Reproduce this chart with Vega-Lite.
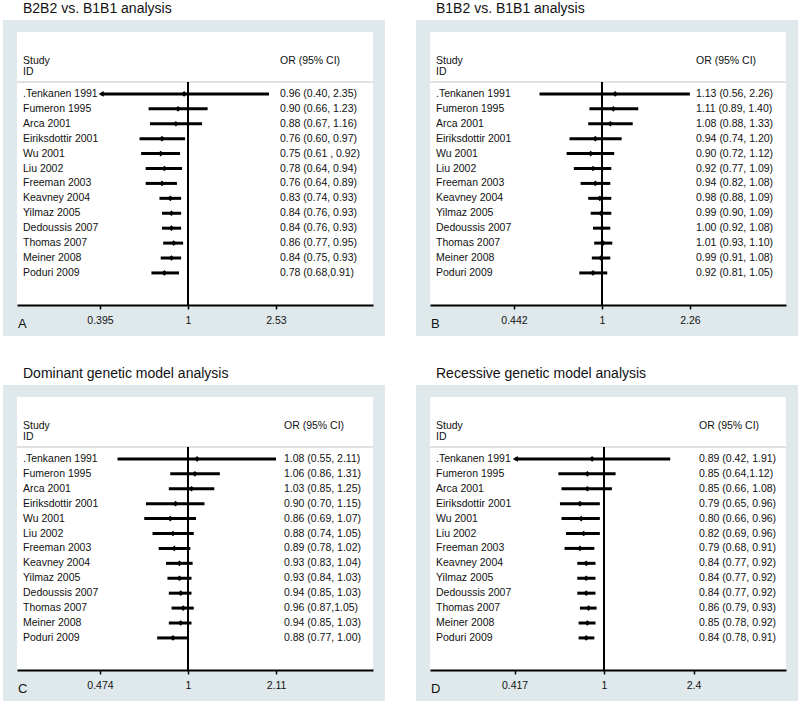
{
  "$schema": "https://vega.github.io/schema/vega-lite/v6.json",
  "padding": {"left": 2, "top": 2, "right": 0, "bottom": 0},
  "background": "white",
  "datasets": {
    "A": [
      {"study": ".Tenkanen 1991", "est": 0.96, "lo": 0.40, "hi": 2.35, "ci": "0.96 (0.40, 2.35)"},
      {"study": "Fumeron 1995", "est": 0.90, "lo": 0.66, "hi": 1.23, "ci": "0.90 (0.66, 1.23)"},
      {"study": "Arca 2001", "est": 0.88, "lo": 0.67, "hi": 1.16, "ci": "0.88 (0.67, 1.16)"},
      {"study": "Eiriksdottir 2001", "est": 0.76, "lo": 0.60, "hi": 0.97, "ci": "0.76 (0.60, 0.97)"},
      {"study": "Wu 2001", "est": 0.75, "lo": 0.61, "hi": 0.92, "ci": "0.75 (0.61 , 0.92)"},
      {"study": "Liu 2002", "est": 0.78, "lo": 0.64, "hi": 0.94, "ci": "0.78 (0.64, 0.94)"},
      {"study": "Freeman 2003", "est": 0.76, "lo": 0.64, "hi": 0.89, "ci": "0.76 (0.64, 0.89)"},
      {"study": "Keavney 2004", "est": 0.83, "lo": 0.74, "hi": 0.93, "ci": "0.83 (0.74, 0.93)"},
      {"study": "Yilmaz 2005", "est": 0.84, "lo": 0.76, "hi": 0.93, "ci": "0.84 (0.76, 0.93)"},
      {"study": "Dedoussis 2007", "est": 0.84, "lo": 0.76, "hi": 0.93, "ci": "0.84 (0.76, 0.93)"},
      {"study": "Thomas 2007", "est": 0.86, "lo": 0.77, "hi": 0.95, "ci": "0.86 (0.77, 0.95)"},
      {"study": "Meiner 2008", "est": 0.84, "lo": 0.75, "hi": 0.93, "ci": "0.84 (0.75, 0.93)"},
      {"study": "Poduri 2009", "est": 0.78, "lo": 0.68, "hi": 0.91, "ci": "0.78 (0.68,0.91)"}
    ],
    "B": [
      {"study": ".Tenkanen 1991", "est": 1.13, "lo": 0.56, "hi": 2.26, "ci": "1.13 (0.56, 2.26)"},
      {"study": "Fumeron 1995", "est": 1.11, "lo": 0.89, "hi": 1.40, "ci": "1.11 (0.89, 1.40)"},
      {"study": "Arca 2001", "est": 1.08, "lo": 0.88, "hi": 1.33, "ci": "1.08 (0.88, 1.33)"},
      {"study": "Eiriksdottir 2001", "est": 0.94, "lo": 0.74, "hi": 1.20, "ci": "0.94 (0.74, 1.20)"},
      {"study": "Wu 2001", "est": 0.90, "lo": 0.72, "hi": 1.12, "ci": "0.90 (0.72, 1.12)"},
      {"study": "Liu 2002", "est": 0.92, "lo": 0.77, "hi": 1.09, "ci": "0.92 (0.77, 1.09)"},
      {"study": "Freeman 2003", "est": 0.94, "lo": 0.82, "hi": 1.08, "ci": "0.94 (0.82, 1.08)"},
      {"study": "Keavney 2004", "est": 0.98, "lo": 0.88, "hi": 1.09, "ci": "0.98 (0.88, 1.09)"},
      {"study": "Yilmaz 2005", "est": 0.99, "lo": 0.90, "hi": 1.09, "ci": "0.99 (0.90, 1.09)"},
      {"study": "Dedoussis 2007", "est": 1.00, "lo": 0.92, "hi": 1.08, "ci": "1.00 (0.92, 1.08)"},
      {"study": "Thomas 2007", "est": 1.01, "lo": 0.93, "hi": 1.10, "ci": "1.01 (0.93, 1.10)"},
      {"study": "Meiner 2008", "est": 0.99, "lo": 0.91, "hi": 1.08, "ci": "0.99 (0.91, 1.08)"},
      {"study": "Poduri 2009", "est": 0.92, "lo": 0.81, "hi": 1.05, "ci": "0.92 (0.81, 1.05)"}
    ],
    "C": [
      {"study": ".Tenkanen 1991", "est": 1.08, "lo": 0.55, "hi": 2.11, "ci": "1.08 (0.55, 2.11)"},
      {"study": "Fumeron 1995", "est": 1.06, "lo": 0.86, "hi": 1.31, "ci": "1.06 (0.86, 1.31)"},
      {"study": "Arca 2001", "est": 1.03, "lo": 0.85, "hi": 1.25, "ci": "1.03 (0.85, 1.25)"},
      {"study": "Eiriksdottir 2001", "est": 0.90, "lo": 0.70, "hi": 1.15, "ci": "0.90 (0.70, 1.15)"},
      {"study": "Wu 2001", "est": 0.86, "lo": 0.69, "hi": 1.07, "ci": "0.86 (0.69, 1.07)"},
      {"study": "Liu 2002", "est": 0.88, "lo": 0.74, "hi": 1.05, "ci": "0.88 (0.74, 1.05)"},
      {"study": "Freeman 2003", "est": 0.89, "lo": 0.78, "hi": 1.02, "ci": "0.89 (0.78, 1.02)"},
      {"study": "Keavney 2004", "est": 0.93, "lo": 0.83, "hi": 1.04, "ci": "0.93 (0.83, 1.04)"},
      {"study": "Yilmaz 2005", "est": 0.93, "lo": 0.84, "hi": 1.03, "ci": "0.93 (0.84, 1.03)"},
      {"study": "Dedoussis 2007", "est": 0.94, "lo": 0.85, "hi": 1.03, "ci": "0.94 (0.85, 1.03)"},
      {"study": "Thomas 2007", "est": 0.96, "lo": 0.87, "hi": 1.05, "ci": "0.96 (0.87,1.05)"},
      {"study": "Meiner 2008", "est": 0.94, "lo": 0.85, "hi": 1.03, "ci": "0.94 (0.85, 1.03)"},
      {"study": "Poduri 2009", "est": 0.88, "lo": 0.77, "hi": 1.00, "ci": "0.88 (0.77, 1.00)"}
    ],
    "D": [
      {"study": ".Tenkanen 1991", "est": 0.89, "lo": 0.42, "hi": 1.91, "ci": "0.89 (0.42, 1.91)"},
      {"study": "Fumeron 1995", "est": 0.85, "lo": 0.64, "hi": 1.12, "ci": "0.85 (0.64,1.12)"},
      {"study": "Arca 2001", "est": 0.85, "lo": 0.66, "hi": 1.08, "ci": "0.85 (0.66, 1.08)"},
      {"study": "Eiriksdottir 2001", "est": 0.79, "lo": 0.65, "hi": 0.96, "ci": "0.79 (0.65, 0.96)"},
      {"study": "Wu 2001", "est": 0.80, "lo": 0.66, "hi": 0.96, "ci": "0.80 (0.66, 0.96)"},
      {"study": "Liu 2002", "est": 0.82, "lo": 0.69, "hi": 0.96, "ci": "0.82 (0.69, 0.96)"},
      {"study": "Freeman 2003", "est": 0.79, "lo": 0.68, "hi": 0.91, "ci": "0.79 (0.68, 0.91)"},
      {"study": "Keavney 2004", "est": 0.84, "lo": 0.77, "hi": 0.92, "ci": "0.84 (0.77, 0.92)"},
      {"study": "Yilmaz 2005", "est": 0.84, "lo": 0.77, "hi": 0.92, "ci": "0.84 (0.77, 0.92)"},
      {"study": "Dedoussis 2007", "est": 0.84, "lo": 0.77, "hi": 0.92, "ci": "0.84 (0.77, 0.92)"},
      {"study": "Thomas 2007", "est": 0.86, "lo": 0.79, "hi": 0.93, "ci": "0.86 (0.79, 0.93)"},
      {"study": "Meiner 2008", "est": 0.85, "lo": 0.78, "hi": 0.92, "ci": "0.85 (0.78, 0.92)"},
      {"study": "Poduri 2009", "est": 0.84, "lo": 0.78, "hi": 0.91, "ci": "0.84 (0.78, 0.91)"}
    ]
  },
  "columns": 2,
  "spacing": {"row": 31, "column": 29},
  "concat": [
    {
      "title": {"text": "B2B2 vs. B1B1 analysis"},
      "width": 356, "height": 273,
      "data": {"name": "A"},
      "transform": [{"window": [{"op": "row_number", "as": "rank"}]}],
      "layer": [
        {"data": {"values": [{}]}, "mark": {"type": "rect", "color": "#dfe9ec"},
         "encoding": {
           "x": {"datum": 0.1421, "type": "quantitative", "scale": {"type": "log", "domain": [0.1647, 7.04], "nice": false},
                 "axis": {"values": [0.395, 1, 2.53], "labelExpr": "format(datum.value, '.3~g')", "title": null, "zindex": 2}},
           "x2": {"datum": 7.99},
           "y": {"datum": -3.954, "type": "quantitative", "scale": {"domain": [-3.15, 15.15], "reverse": true, "nice": false, "zero": false}, "axis": null},
           "y2": {"datum": 17.228}}},
        {"data": {"values": [{}]}, "mark": {"type": "rect", "color": "white"},
         "encoding": {"x": {"datum": 0.1647, "type": "quantitative"}, "x2": {"datum": 7.04},
                      "y": {"datum": -3.15, "type": "quantitative", "axis": null}, "y2": {"datum": 15.15}}},
        {"data": {"values": [{}]}, "mark": {"type": "rule", "color": "#c4c4c4", "strokeWidth": 1},
         "encoding": {"y": {"datum": 0.201, "type": "quantitative", "axis": null}}},
        {"data": {"values": [{}]}, "mark": {"type": "rule", "color": "black", "strokeWidth": 2},
         "encoding": {"x": {"datum": 1, "type": "quantitative"}, "y": {"datum": 0.201, "type": "quantitative", "axis": null}, "y2": {"datum": 15.15}}},
        {"data": {"values": [{}]}, "mark": {"type": "text", "text": "Study", "align": "left", "baseline": "middle"},
         "encoding": {"x": {"datum": 0.1754, "type": "quantitative"}, "y": {"datum": -1.206, "type": "quantitative", "axis": null}}},
        {"data": {"values": [{}]}, "mark": {"type": "text", "text": "ID", "align": "left", "baseline": "middle"},
         "encoding": {"x": {"datum": 0.1754, "type": "quantitative"}, "y": {"datum": -0.469, "type": "quantitative", "axis": null}}},
        {"data": {"values": [{}]}, "mark": {"type": "text", "text": "OR (95% CI)", "align": "left", "baseline": "middle"},
         "encoding": {"x": {"datum": 2.639, "type": "quantitative"}, "y": {"datum": -1.206, "type": "quantitative", "axis": null}}},
        {"data": {"values": [{}]}, "mark": {"type": "text", "text": "A", "align": "left", "baseline": "middle", "fontSize": 13},
         "encoding": {"x": {"datum": 0.1664, "type": "quantitative"}, "y": {"datum": 16.42, "type": "quantitative", "axis": null}}},
        {"mark": {"type": "rule", "color": "black", "strokeWidth": 3},
         "encoding": {"x": {"field": "lo", "type": "quantitative"}, "x2": {"field": "hi"}, "y": {"field": "rank", "type": "quantitative", "axis": null}}},
        {"transform": [{"filter": {"field": "study", "equal": ".Tenkanen 1991"}}],
         "mark": {"type": "point", "shape": "triangle-left", "filled": true, "color": "black", "size": 35, "opacity": 1},
         "encoding": {"x": {"field": "lo", "type": "quantitative"}, "y": {"field": "rank", "type": "quantitative", "axis": null}}},
        {"mark": {"type": "point", "shape": "diamond", "filled": true, "color": "black", "size": 32, "opacity": 1},
         "encoding": {"x": {"field": "est", "type": "quantitative"}, "y": {"field": "rank", "type": "quantitative", "axis": null}}},
        {"mark": {"type": "text", "align": "left", "baseline": "middle"},
         "encoding": {"x": {"datum": 0.1754, "type": "quantitative"}, "y": {"field": "rank", "type": "quantitative", "axis": null}, "text": {"field": "study"}}},
        {"mark": {"type": "text", "align": "left", "baseline": "middle"},
         "encoding": {"x": {"datum": 2.639, "type": "quantitative"}, "y": {"field": "rank", "type": "quantitative", "axis": null}, "text": {"field": "ci"}}}
      ]
    },
    {
      "title": {"text": "B1B2 vs. B1B1 analysis"},
      "width": 356, "height": 273,
      "data": {"name": "B"},
      "transform": [{"window": [{"op": "row_number", "as": "rank"}]}],
      "layer": [
        {"data": {"values": [{}]}, "mark": {"type": "rect", "color": "#dfe9ec"},
         "encoding": {
           "x": {"datum": 0.1781, "type": "quantitative", "scale": {"type": "log", "domain": [0.2028, 5.511], "nice": false},
                 "axis": {"values": [0.442, 1, 2.26], "labelExpr": "format(datum.value, '.3~g')", "title": null, "zindex": 2}},
           "x2": {"datum": 6.161},
           "y": {"datum": -3.954, "type": "quantitative", "scale": {"domain": [-3.15, 15.15], "reverse": true, "nice": false, "zero": false}, "axis": null},
           "y2": {"datum": 17.228}}},
        {"data": {"values": [{}]}, "mark": {"type": "rect", "color": "white"},
         "encoding": {"x": {"datum": 0.2028, "type": "quantitative"}, "x2": {"datum": 5.511},
                      "y": {"datum": -3.15, "type": "quantitative", "axis": null}, "y2": {"datum": 15.15}}},
        {"data": {"values": [{}]}, "mark": {"type": "rule", "color": "#c4c4c4", "strokeWidth": 1},
         "encoding": {"y": {"datum": 0.201, "type": "quantitative", "axis": null}}},
        {"data": {"values": [{}]}, "mark": {"type": "rule", "color": "black", "strokeWidth": 2},
         "encoding": {"x": {"datum": 1, "type": "quantitative"}, "y": {"datum": 0.201, "type": "quantitative", "axis": null}, "y2": {"datum": 15.15}}},
        {"data": {"values": [{}]}, "mark": {"type": "text", "text": "Study", "align": "left", "baseline": "middle"},
         "encoding": {"x": {"datum": 0.2144, "type": "quantitative"}, "y": {"datum": -1.206, "type": "quantitative", "axis": null}}},
        {"data": {"values": [{}]}, "mark": {"type": "text", "text": "ID", "align": "left", "baseline": "middle"},
         "encoding": {"x": {"datum": 0.2144, "type": "quantitative"}, "y": {"datum": -0.469, "type": "quantitative", "axis": null}}},
        {"data": {"values": [{}]}, "mark": {"type": "text", "text": "OR (95% CI)", "align": "left", "baseline": "middle"},
         "encoding": {"x": {"datum": 2.392, "type": "quantitative"}, "y": {"datum": -1.206, "type": "quantitative", "axis": null}}},
        {"data": {"values": [{}]}, "mark": {"type": "text", "text": "B", "align": "left", "baseline": "middle", "fontSize": 13},
         "encoding": {"x": {"datum": 0.2047, "type": "quantitative"}, "y": {"datum": 16.42, "type": "quantitative", "axis": null}}},
        {"mark": {"type": "rule", "color": "black", "strokeWidth": 3},
         "encoding": {"x": {"field": "lo", "type": "quantitative"}, "x2": {"field": "hi"}, "y": {"field": "rank", "type": "quantitative", "axis": null}}},
        {"mark": {"type": "point", "shape": "diamond", "filled": true, "color": "black", "size": 32, "opacity": 1},
         "encoding": {"x": {"field": "est", "type": "quantitative"}, "y": {"field": "rank", "type": "quantitative", "axis": null}}},
        {"mark": {"type": "text", "align": "left", "baseline": "middle"},
         "encoding": {"x": {"datum": 0.2144, "type": "quantitative"}, "y": {"field": "rank", "type": "quantitative", "axis": null}, "text": {"field": "study"}}},
        {"mark": {"type": "text", "align": "left", "baseline": "middle"},
         "encoding": {"x": {"datum": 2.392, "type": "quantitative"}, "y": {"field": "rank", "type": "quantitative", "axis": null}, "text": {"field": "ci"}}}
      ]
    },
    {
      "title": {"text": "Dominant genetic model analysis"},
      "width": 356, "height": 273,
      "data": {"name": "C"},
      "transform": [{"window": [{"op": "row_number", "as": "rank"}]}],
      "layer": [
        {"data": {"values": [{}]}, "mark": {"type": "rect", "color": "#dfe9ec"},
         "encoding": {
           "x": {"datum": 0.2082, "type": "quantitative", "scale": {"type": "log", "domain": [0.2345, 4.802], "nice": false},
                 "axis": {"values": [0.474, 1, 2.11], "labelExpr": "format(datum.value, '.3~g')", "title": null, "zindex": 2}},
           "x2": {"datum": 5.317},
           "y": {"datum": -3.954, "type": "quantitative", "scale": {"domain": [-3.15, 15.15], "reverse": true, "nice": false, "zero": false}, "axis": null},
           "y2": {"datum": 17.228}}},
        {"data": {"values": [{}]}, "mark": {"type": "rect", "color": "white"},
         "encoding": {"x": {"datum": 0.2345, "type": "quantitative"}, "x2": {"datum": 4.802},
                      "y": {"datum": -3.15, "type": "quantitative", "axis": null}, "y2": {"datum": 15.15}}},
        {"data": {"values": [{}]}, "mark": {"type": "rule", "color": "#c4c4c4", "strokeWidth": 1},
         "encoding": {"y": {"datum": 0.201, "type": "quantitative", "axis": null}}},
        {"data": {"values": [{}]}, "mark": {"type": "rule", "color": "black", "strokeWidth": 2},
         "encoding": {"x": {"datum": 1, "type": "quantitative"}, "y": {"datum": 0.201, "type": "quantitative", "axis": null}, "y2": {"datum": 15.15}}},
        {"data": {"values": [{}]}, "mark": {"type": "text", "text": "Study", "align": "left", "baseline": "middle"},
         "encoding": {"x": {"datum": 0.2467, "type": "quantitative"}, "y": {"datum": -1.206, "type": "quantitative", "axis": null}}},
        {"data": {"values": [{}]}, "mark": {"type": "text", "text": "ID", "align": "left", "baseline": "middle"},
         "encoding": {"x": {"datum": 0.2467, "type": "quantitative"}, "y": {"datum": -0.469, "type": "quantitative", "axis": null}}},
        {"data": {"values": [{}]}, "mark": {"type": "text", "text": "OR (95% CI)", "align": "left", "baseline": "middle"},
         "encoding": {"x": {"datum": 2.257, "type": "quantitative"}, "y": {"datum": -1.206, "type": "quantitative", "axis": null}}},
        {"data": {"values": [{}]}, "mark": {"type": "text", "text": "C", "align": "left", "baseline": "middle", "fontSize": 13},
         "encoding": {"x": {"datum": 0.2365, "type": "quantitative"}, "y": {"datum": 16.42, "type": "quantitative", "axis": null}}},
        {"mark": {"type": "rule", "color": "black", "strokeWidth": 3},
         "encoding": {"x": {"field": "lo", "type": "quantitative"}, "x2": {"field": "hi"}, "y": {"field": "rank", "type": "quantitative", "axis": null}}},
        {"mark": {"type": "point", "shape": "diamond", "filled": true, "color": "black", "size": 32, "opacity": 1},
         "encoding": {"x": {"field": "est", "type": "quantitative"}, "y": {"field": "rank", "type": "quantitative", "axis": null}}},
        {"mark": {"type": "text", "align": "left", "baseline": "middle"},
         "encoding": {"x": {"datum": 0.2467, "type": "quantitative"}, "y": {"field": "rank", "type": "quantitative", "axis": null}, "text": {"field": "study"}}},
        {"mark": {"type": "text", "align": "left", "baseline": "middle"},
         "encoding": {"x": {"datum": 2.257, "type": "quantitative"}, "y": {"field": "rank", "type": "quantitative", "axis": null}, "text": {"field": "ci"}}}
      ]
    },
    {
      "title": {"text": "Recessive genetic model analysis"},
      "width": 356, "height": 273,
      "data": {"name": "D"},
      "transform": [{"window": [{"op": "row_number", "as": "rank"}]}],
      "layer": [
        {"data": {"values": [{}]}, "mark": {"type": "rect", "color": "#dfe9ec"},
         "encoding": {
           "x": {"datum": 0.1592, "type": "quantitative", "scale": {"type": "log", "domain": [0.1825, 5.924], "nice": false},
                 "axis": {"values": [0.417, 1, 2.4], "labelExpr": "format(datum.value, '.3~g')", "title": null, "zindex": 2}},
           "x2": {"datum": 6.662},
           "y": {"datum": -3.954, "type": "quantitative", "scale": {"domain": [-3.15, 15.15], "reverse": true, "nice": false, "zero": false}, "axis": null},
           "y2": {"datum": 17.228}}},
        {"data": {"values": [{}]}, "mark": {"type": "rect", "color": "white"},
         "encoding": {"x": {"datum": 0.1825, "type": "quantitative"}, "x2": {"datum": 5.924},
                      "y": {"datum": -3.15, "type": "quantitative", "axis": null}, "y2": {"datum": 15.15}}},
        {"data": {"values": [{}]}, "mark": {"type": "rule", "color": "#c4c4c4", "strokeWidth": 1},
         "encoding": {"y": {"datum": 0.201, "type": "quantitative", "axis": null}}},
        {"data": {"values": [{}]}, "mark": {"type": "rule", "color": "black", "strokeWidth": 2},
         "encoding": {"x": {"datum": 1, "type": "quantitative"}, "y": {"datum": 0.201, "type": "quantitative", "axis": null}, "y2": {"datum": 15.15}}},
        {"data": {"values": [{}]}, "mark": {"type": "text", "text": "Study", "align": "left", "baseline": "middle"},
         "encoding": {"x": {"datum": 0.1935, "type": "quantitative"}, "y": {"datum": -1.206, "type": "quantitative", "axis": null}}},
        {"data": {"values": [{}]}, "mark": {"type": "text", "text": "ID", "align": "left", "baseline": "middle"},
         "encoding": {"x": {"datum": 0.1935, "type": "quantitative"}, "y": {"datum": -0.469, "type": "quantitative", "axis": null}}},
        {"data": {"values": [{}]}, "mark": {"type": "text", "text": "OR (95% CI)", "align": "left", "baseline": "middle"},
         "encoding": {"x": {"datum": 2.531, "type": "quantitative"}, "y": {"datum": -1.206, "type": "quantitative", "axis": null}}},
        {"data": {"values": [{}]}, "mark": {"type": "text", "text": "D", "align": "left", "baseline": "middle", "fontSize": 13},
         "encoding": {"x": {"datum": 0.1843, "type": "quantitative"}, "y": {"datum": 16.42, "type": "quantitative", "axis": null}}},
        {"mark": {"type": "rule", "color": "black", "strokeWidth": 3},
         "encoding": {"x": {"field": "lo", "type": "quantitative"}, "x2": {"field": "hi"}, "y": {"field": "rank", "type": "quantitative", "axis": null}}},
        {"transform": [{"filter": {"field": "study", "equal": ".Tenkanen 1991"}}],
         "mark": {"type": "point", "shape": "triangle-left", "filled": true, "color": "black", "size": 35, "opacity": 1},
         "encoding": {"x": {"field": "lo", "type": "quantitative"}, "y": {"field": "rank", "type": "quantitative", "axis": null}}},
        {"mark": {"type": "point", "shape": "diamond", "filled": true, "color": "black", "size": 32, "opacity": 1},
         "encoding": {"x": {"field": "est", "type": "quantitative"}, "y": {"field": "rank", "type": "quantitative", "axis": null}}},
        {"mark": {"type": "text", "align": "left", "baseline": "middle"},
         "encoding": {"x": {"datum": 0.1935, "type": "quantitative"}, "y": {"field": "rank", "type": "quantitative", "axis": null}, "text": {"field": "study"}}},
        {"mark": {"type": "text", "align": "left", "baseline": "middle"},
         "encoding": {"x": {"datum": 2.531, "type": "quantitative"}, "y": {"field": "rank", "type": "quantitative", "axis": null}, "text": {"field": "ci"}}}
      ]
    }
  ],
  "config": {
    "view": {"stroke": null},
    "font": "Liberation Sans",
    "title": {"anchor": "start", "frame": "group", "dx": 6, "offset": 4, "fontSize": 14, "fontWeight": "normal", "color": "#111", "font": "Liberation Sans"},
    "text": {"font": "Liberation Sans", "fontSize": 10.5, "color": "#111"},
    "axisX": {"domain": true, "domainColor": "black", "domainWidth": 2, "ticks": true, "tickColor": "black", "tickSize": 4, "tickWidth": 1.5,
              "labelFont": "Liberation Sans", "labelFontSize": 10.5, "labelColor": "#111", "labelPadding": 6, "grid": false,
              "labelFlush": false, "labelOverlap": false}
  }
}
